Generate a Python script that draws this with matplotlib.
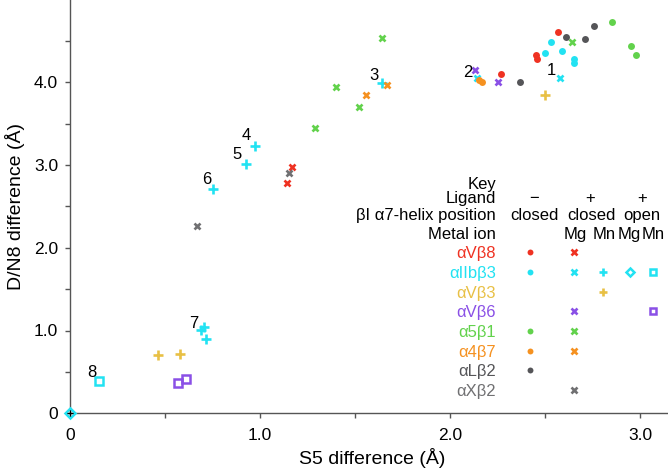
import matplotlib
matplotlib.use("Agg")
import matplotlib.pyplot as plt
from matplotlib.lines import Line2D

plt.rcParams['font.family'] = ['Liberation Sans', 'DejaVu Sans']

# ---------------- data (S5 difference, D/N8 difference) ----------------
# aVb8
AVB8_UNLIG_S5 = [2.27, 2.45, 2.46, 2.57]
AVB8_UNLIG_DN8 = [4.10, 4.33, 4.28, 4.61]
AVB8_MG_S5 = [1.14, 1.17]
AVB8_MG_DN8 = [2.78, 2.97]
# aIIbb3
AIIBB3_UNLIG_S5 = [2.50, 2.53, 2.59, 2.65, 2.65]
AIIBB3_UNLIG_DN8 = [4.35, 4.48, 4.37, 4.28, 4.23]
AIIBB3_MG_S5 = [2.58, 2.14]
AIIBB3_MG_DN8 = [4.05, 4.05]
AIIBB3_MN_S5 = [1.64, 0.974, 0.925, 0.754, 0.69, 0.705, 0.715]
AIIBB3_MN_DN8 = [3.99, 3.23, 3.01, 2.71, 1.01, 1.04, 0.90]
AIIBB3_OPENMG_S5 = [0.0]
AIIBB3_OPENMG_DN8 = [0.0]
AIIBB3_OPENMN_S5 = [0.153]
AIIBB3_OPENMN_DN8 = [0.39]
# aVb3
AVB3_MN_S5 = [0.465, 0.58, 2.50]
AVB3_MN_DN8 = [0.71, 0.72, 3.85]
# aVb6
AVB6_MG_S5 = [2.13, 2.25]
AVB6_MG_DN8 = [4.15, 4.00]
AVB6_OPENMN_S5 = [0.57, 0.61]
AVB6_OPENMN_DN8 = [0.366, 0.41]
# a5b1
A5B1_UNLIG_S5 = [2.85, 2.95, 2.98]
A5B1_UNLIG_DN8 = [4.73, 4.44, 4.33]
A5B1_MG_S5 = [2.64, 1.64, 1.40, 1.52, 1.29]
A5B1_MG_DN8 = [4.49, 4.53, 3.94, 3.70, 3.44]
# a4b7
A4B7_UNLIG_S5 = [2.15, 2.17]
A4B7_UNLIG_DN8 = [4.03, 4.00]
A4B7_MG_S5 = [1.67, 1.56]
A4B7_MG_DN8 = [3.96, 3.85]
# aLb2
ALB2_UNLIG_S5 = [2.37, 2.61, 2.71, 2.76]
ALB2_UNLIG_DN8 = [4.00, 4.54, 4.52, 4.68]
# aXb2
AXB2_MG_S5 = [1.15, 0.67]
AXB2_MG_DN8 = [2.90, 2.26]

# numbered structures (label text, labelled point)
NUM_LABELS = ['1', '2', '3', '4', '5', '6', '7', '8']
NUM_S5 = [2.58, 2.14, 1.64, 0.974, 0.925, 0.754, 0.69, 0.153]
NUM_DN8 = [4.05, 4.05, 3.99, 3.23, 3.01, 2.71, 1.01, 0.39]

INTEGRINS = ['αVβ8', 'αIIbβ3', 'αVβ3', 'αVβ6', 'α5β1', 'α4β7', 'αLβ2', 'αXβ2']
X_TICKS = [0, 0.5, 1.0, 1.5, 2.0, 2.5, 3.0]
X_TICK_LABELS = ['0', '', '1.0', '', '2.0', '', '3.0']
Y_TICKS = [0, 0.5, 1.0, 1.5, 2.0, 2.5, 3.0, 3.5, 4.0, 4.5]
Y_TICK_LABELS = ['0', '', '1.0', '', '2.0', '', '3.0', '', '4.0', '']

# ---------------- styles ----------------
COL = {
    'αVβ8': '#ef3222',
    'αIIbβ3': '#22e2f2',
    'αVβ3': '#e8c045',
    'αVβ6': '#8a50e6',
    'α5β1': '#62d24c',
    'α4β7': '#f59120',
    'αLβ2': '#555558',
    'αXβ2': '#707072',
}
STY = {
    'unlig': dict(marker='o', ms=5.0, mew=0),
    'mg': dict(marker='x', ms=5.0, mew=1.9),
    'mn': dict(marker='+', ms=7.0, mew=1.9),
    'openmg': dict(marker='D', ms=5.0, mew=1.8, mfc='none'),
    'openmn': dict(marker='s', ms=5.5, mew=1.8, mfc='none'),
}

W, H = 668, 472
fig = plt.figure(figsize=(W / 100, H / 100), dpi=100)

x0, y0 = 70, 413.3
px_x, px_y = 190.0, 82.8
xmax = (W - x0) / px_x
ymax = y0 / px_y
ax = fig.add_axes([x0 / W, 1 - y0 / H, (W - x0) / W, y0 / H])
ax.set_xlim(0, xmax)
ax.set_ylim(0, ymax)

def draw(xs, ys, name, kind, **kw):
    st = dict(STY[kind])
    c = COL[name]
    ax.plot(xs, ys, ls='none', color=c, mec=c, clip_on=False, zorder=3, **st, **kw)

draw(AVB8_UNLIG_S5, AVB8_UNLIG_DN8, 'αVβ8', 'unlig')
draw(AVB8_MG_S5, AVB8_MG_DN8, 'αVβ8', 'mg')
draw(AIIBB3_UNLIG_S5, AIIBB3_UNLIG_DN8, 'αIIbβ3', 'unlig')
draw(AIIBB3_MG_S5, AIIBB3_MG_DN8, 'αIIbβ3', 'mg')
draw(AIIBB3_MN_S5, AIIBB3_MN_DN8, 'αIIbβ3', 'mn')
draw(AIIBB3_OPENMG_S5, AIIBB3_OPENMG_DN8, 'αIIbβ3', 'openmg')
draw(AIIBB3_OPENMN_S5, AIIBB3_OPENMN_DN8, 'αIIbβ3', 'openmn')
draw(AVB3_MN_S5, AVB3_MN_DN8, 'αVβ3', 'mn')
draw(AVB6_MG_S5, AVB6_MG_DN8, 'αVβ6', 'mg')
draw(AVB6_OPENMN_S5, AVB6_OPENMN_DN8, 'αVβ6', 'openmn')
draw(A5B1_UNLIG_S5, A5B1_UNLIG_DN8, 'α5β1', 'unlig')
draw(A5B1_MG_S5, A5B1_MG_DN8, 'α5β1', 'mg')
draw(A4B7_UNLIG_S5, A4B7_UNLIG_DN8, 'α4β7', 'unlig')
draw(A4B7_MG_S5, A4B7_MG_DN8, 'α4β7', 'mg')
draw(ALB2_UNLIG_S5, ALB2_UNLIG_DN8, 'αLβ2', 'unlig')
draw(AXB2_MG_S5, AXB2_MG_DN8, 'αXβ2', 'mg')
# reference mark at origin
ax.plot(AIIBB3_OPENMG_S5, AIIBB3_OPENMG_DN8, ls='none', marker='+', ms=4, mew=0.9,
        color='black', clip_on=False, zorder=4)

# numbered labels (offset in pixels: dx, dy)
offs = [(-9, 7), (-9, 5), (-8, 7), (-9, 10), (-9, 10), (-7, 9), (-7, 6), (-7, 9)]
for t, xv, yv, (dx, dy) in zip(NUM_LABELS, NUM_S5, NUM_DN8, offs):
    ax.annotate(t, (xv, yv), xytext=(dx, dy), textcoords='offset pixels',
                ha='center', va='center', fontsize=12, color='black', zorder=5)

# axes styling
for s in ['top', 'right']:
    ax.spines[s].set_visible(False)
for s in ['left', 'bottom']:
    ax.spines[s].set_color('#555555')
    ax.spines[s].set_linewidth(1.0)
ax.set_xticks(X_TICKS)
ax.set_xticklabels(X_TICK_LABELS)
ax.set_yticks(Y_TICKS)
ax.set_yticklabels(Y_TICK_LABELS)
ax.tick_params(axis='both', direction='out', length=3.6, width=1.0, color='#555555',
               labelsize=12.5, labelcolor='black')
ax.tick_params(axis='x', pad=7)
ax.tick_params(axis='y', pad=5)

def fx(p):
    return p / W

def fy(p):
    return 1 - p / H

fig.text(fx(372), fy(458), 'S5 difference (Å)', ha='center', va='center', fontsize=14)
fig.text(fx(15), fy(207), 'D/N8 difference (Å)', ha='center', va='center', fontsize=14,
         rotation=90)

# ---------------- key ----------------
kfs = 12
xr = 496
bl = 6  # centre -> baseline offset (px)

def ktext(x, y, t, ha='center', color='black'):
    fig.text(fx(x), fy(y + bl), t, ha=ha, va='baseline', fontsize=kfs, color=color)

ktext(xr, 183, 'Key', ha='right')
ktext(xr, 197, 'Ligand', ha='right')
ktext(xr, 214, 'βI α7-helix position', ha='right')
ktext(xr, 233, 'Metal ion', ha='right')
for xx, t in [(534, '−'), (590, '+'), (642, '+')]:
    ktext(xx, 197, t)
for xx, t in [(534, 'closed'), (591, 'closed'), (642, 'open')]:
    ktext(xx, 214, t)
for xx, t in [(575, 'Mg'), (604, 'Mn'), (629, 'Mg'), (653, 'Mn')]:
    ktext(xx, 233, t)

col_x = {'unlig': 530, 'mg': 574.3, 'mn': 603.3, 'openmg': 630, 'openmn': 653.3}
key_entries = {
    'αVβ8': ['unlig', 'mg'],
    'αIIbβ3': ['unlig', 'mg', 'mn', 'openmg', 'openmn'],
    'αVβ3': ['mn'],
    'αVβ6': ['mg', 'openmn'],
    'α5β1': ['unlig', 'mg'],
    'α4β7': ['unlig', 'mg'],
    'αLβ2': ['unlig'],
    'αXβ2': ['mg'],
}
row0, dr = 252.3, 19.67
for i, name in enumerate(INTEGRINS):
    yy = row0 + i * dr
    ktext(xr, yy, name, ha='right', color=COL[name])
    for kind in key_entries[name]:
        st = dict(STY[kind])
        st['ms'] = st['ms'] * 0.85
        fig.add_artist(Line2D([fx(col_x[kind])], [fy(yy)], transform=fig.transFigure,
                              ls='none', color=COL[name], mec=COL[name], **st))

fig.savefig('out.png', dpi=100)
